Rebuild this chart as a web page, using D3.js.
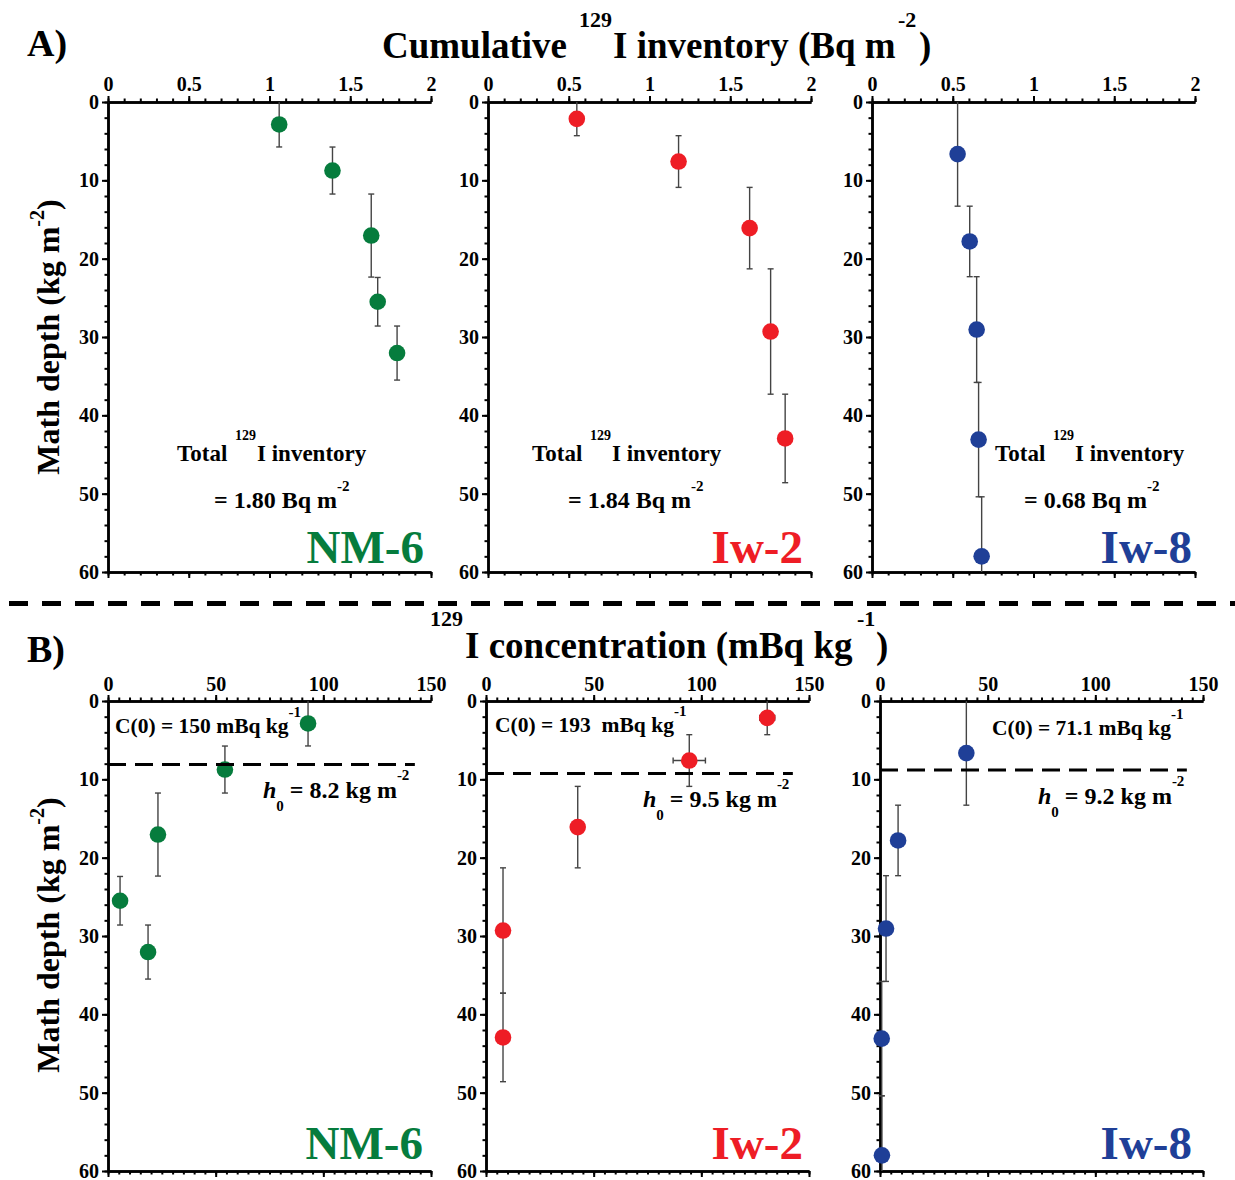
<!DOCTYPE html>
<html>
<head>
<meta charset="utf-8">
<script src="https://cdn.jsdelivr.net/npm/d3@7"></script>
<style>
body { margin: 0; background: #fff; }
text { font-family: "Liberation Serif", "Times New Roman", serif; font-weight: bold; white-space: pre; }
</style>
</head>
<body>
<svg id="chart" width="1235" height="1180"></svg>
<script>
// ---- data ----
var sites = ["NM-6", "Iw-2", "Iw-8"];
var colors = ["#067c3d", "#ee1d25", "#1f3f97"];

// mass depth of each sample (kg m-2) and half the sampled interval
var depthNM6 = [2.87, 8.75, 17.05, 25.5, 32.05];
var depthErrNM6 = [2.87, 3.0, 5.3, 3.1, 3.45];
var depthIw2 = [2.15, 7.6, 16.1, 29.3, 42.95];
var depthErrIw2 = [2.15, 3.3, 5.2, 8.0, 5.65];
var depthIw8 = [6.65, 17.8, 29.05, 43.1, 58.0];
var depthErrIw8 = [6.65, 4.5, 6.75, 7.3, 7.6];

// cumulative 129I inventory (Bq m-2)
var inventoryNM6 = [1.06, 1.39, 1.63, 1.67, 1.79];
var inventoryIw2 = [0.55, 1.18, 1.62, 1.75, 1.84];
var inventoryIw8 = [0.53, 0.605, 0.648, 0.66, 0.679];

// 129I concentration (mBq kg-1)
var concNM6 = [92.9, 54.3, 23.2, 5.6, 18.6];
var concIw2 = [130.6, 94.4, 42.6, 7.9, 7.9];
var concErrIw2 = [3.5, 7.5, 0, 0, 0];
var concIw8 = [40.1, 8.4, 2.8, 0.8, 0.9];

var totals = ["1.80", "1.84", "0.68"];
var c0Labels = ["150", "193 ", "71.1"];
var h0Labels = ["8.2", "9.5", "9.2"];
var h0Lines = [8.1, 9.25, 8.8];   // depth where the dashed line sits

var inventoryTicks = [0, 0.5, 1, 1.5, 2];
var concTicks = [0, 50, 100, 150];
var depthTicks = [0, 10, 20, 30, 40, 50, 60];

var depth = [depthNM6, depthIw2, depthIw8];
var depthErr = [depthErrNM6, depthErrIw2, depthErrIw8];
var inventory = [inventoryNM6, inventoryIw2, inventoryIw8];
var conc = [concNM6, concIw2, concIw8];
var concErr = [[0, 0, 0, 0, 0], concErrIw2, [0, 0, 0, 0, 0]];

// ---- layout ----
var topX0 = [108, 488, 872],
    botX0 = [108, 486, 880],
    panelW = 323,
    panelH = 470,
    topY0 = 102,
    botY0 = 701;

var siteRight = [[424, 803, 1192], [423, 803, 1192]],
    totalX = [177, 532, 995],
    totalEqX = [214, 568, 1024],
    c0X = [115, 495, 992],
    c0Y = [733, 732, 735],
    h0X = [263, 643, 1038];

var svg = d3.select("#chart");

// text with sub/superscripts, parts: {t, off, size, italic, dx}
function rich(sel, x, y, size, parts) {
    var t = sel.append("text").attr("x", x).attr("y", y).style("font-size", size + "px");
    var cur = 0;
    parts.forEach(function(p) {
        var off = p.off || 0;
        var ts = t.append("tspan")
            .attr("dy", off - cur)
            .style("font-size", (p.size || size) + "px")
            .text(p.t);
        if (p.dx) ts.attr("dx", p.dx);
        if (p.italic) ts.style("font-style", "italic");
        cur = off;
    });
    return t;
}

function styleAxis(g) {
    g.select(".domain").attr("stroke", "#000").attr("stroke-width", 2.5);
    g.selectAll(".tick line").attr("stroke", "#000").attr("stroke-width", 2);
    g.selectAll(".tick text")
        .attr("fill", "#000")
        .style("font-size", "20px")
        .style("font-family", "'Liberation Serif', 'Times New Roman', serif")
        .style("font-weight", "bold");
}

function minor(domain, step) {
    var out = [];
    for (var v = domain[0]; v <= domain[1] + 1e-9; v += step) out.push(+v.toFixed(4));
    return out;
}

function panel(i, row) {
    var x0 = row === 0 ? topX0[i] : botX0[i];
    var y0 = row === 0 ? topY0 : botY0;
    var xDomain = row === 0 ? [0, 2] : [0, 150];
    var xMajor = row === 0 ? inventoryTicks : concTicks;
    var xMinor = minor(xDomain, row === 0 ? 0.1 : 5);
    var xs = row === 0 ? inventory[i] : conc[i];
    var xe = row === 0 ? [0, 0, 0, 0, 0] : concErr[i];

    var g = svg.append("g").attr("transform", "translate(" + x0 + "," + y0 + ")");
    var x = d3.scaleLinear().domain(xDomain).range([0, panelW]);
    var y = d3.scaleLinear().domain([0, 60]).range([0, panelH]);

    // minor ticks first, then the labelled majors
    g.append("g").call(d3.axisTop(x).tickValues(xMinor).tickSize(3.5).tickSizeOuter(0).tickFormat(""))
        .call(styleAxis);
    g.append("g").call(d3.axisTop(x).tickValues(xMajor).tickSize(6).tickSizeOuter(0).tickPadding(row === 0 ? 5 : 4)
        .tickFormat(function(d) { return d; }))
        .call(styleAxis);
    g.append("g").attr("transform", "translate(0," + panelH + ")")
        .call(d3.axisBottom(x).tickValues(xMinor).tickSize(3.5).tickSizeOuter(0).tickFormat(""))
        .call(styleAxis);
    g.append("g").attr("transform", "translate(0," + panelH + ")")
        .call(d3.axisBottom(x).tickValues(xMajor).tickSize(6).tickSizeOuter(0).tickFormat(""))
        .call(styleAxis);
    g.append("g").call(d3.axisLeft(y).tickValues(minor([0, 60], 2)).tickSize(3.5).tickSizeOuter(0).tickFormat(""))
        .call(styleAxis);
    g.append("g").call(d3.axisLeft(y).tickValues(depthTicks).tickSize(6).tickSizeOuter(0).tickPadding(3)
        .tickFormat(function(d) { return d; }))
        .call(styleAxis);

    var clipId = "clip" + row + i;
    g.append("clipPath").attr("id", clipId)
        .append("rect").attr("x", -30).attr("y", 0).attr("width", panelW + 60).attr("height", panelH);

    var pts = xs.map(function(v, k) {
        return { x: v, y: depth[i][k], ey: depthErr[i][k], ex: xe[k] };
    });

    var eb = g.append("g").attr("clip-path", "url(#" + clipId + ")")
        .attr("stroke", "#444").attr("stroke-width", 1.4).attr("fill", "none");
    pts.forEach(function(d) {
        eb.append("line").attr("x1", x(d.x)).attr("x2", x(d.x))
            .attr("y1", y(d.y - d.ey)).attr("y2", y(d.y + d.ey));
        [d.y - d.ey, d.y + d.ey].forEach(function(v) {
            if (v > 0.05) eb.append("line").attr("x1", x(d.x) - 3).attr("x2", x(d.x) + 3)
                .attr("y1", y(v)).attr("y2", y(v));
        });
        if (d.ex > 0) {
            eb.append("line").attr("x1", x(d.x - d.ex)).attr("x2", x(d.x + d.ex))
                .attr("y1", y(d.y)).attr("y2", y(d.y));
            [d.x - d.ex, d.x + d.ex].forEach(function(v) {
                eb.append("line").attr("x1", x(v)).attr("x2", x(v))
                    .attr("y1", y(d.y) - 3).attr("y2", y(d.y) + 3);
            });
        }
    });

    g.append("g").selectAll("circle").data(pts).enter().append("circle")
        .attr("cx", function(d) { return x(d.x); })
        .attr("cy", function(d) { return y(d.y); })
        .attr("r", 8.3)
        .attr("fill", colors[i]);

    // site label
    svg.append("text").attr("x", siteRight[row][i]).attr("y", y0 + panelH - (row === 0 ? 9 : 12))
        .attr("text-anchor", "end").attr("fill", colors[i])
        .style("font-size", "47px").text(sites[i]);

    if (row === 0) {
        rich(svg, totalX[i], 461, 23, [
            { t: "Total " },
            { t: "129", size: 14, off: -21, dx: 2 },
            { t: "I inventory", off: 0, dx: 1 }
        ]);
        rich(svg, totalEqX[i], 508, 24, [
            { t: "= " + totals[i] + " Bq m" },
            { t: "-2", size: 15, off: -17 }
        ]);
    } else {
        g.append("line")
            .attr("x1", 0).attr("x2", x(142.5))
            .attr("y1", y(h0Lines[i])).attr("y2", y(h0Lines[i]))
            .attr("stroke", "#000").attr("stroke-width", 3)
            .attr("stroke-dasharray", "18,9");
        rich(svg, c0X[i], c0Y[i], 21.5, [
            { t: "C(0) = " + c0Labels[i] + " mBq kg" },
            { t: "-1", size: 15, off: -16 }
        ]);
        rich(svg, h0X[i], y0 + y(h0Lines[i]) + 34, 24, [
            { t: "h", italic: true },
            { t: "0", size: 15, off: 13 },
            { t: " = " + h0Labels[i] + " kg m", off: 0 },
            { t: "-2", size: 15, off: -18 }
        ]);
    }
}

[0, 1, 2].forEach(function(i) { panel(i, 0); panel(i, 1); });

// titles and panel letters
svg.append("text").attr("x", 27).attr("y", 56).style("font-size", "38px").text("A)");
svg.append("text").attr("x", 27).attr("y", 662).style("font-size", "38px").text("B)");

svg.append("text").attr("x", 382).attr("y", 58).style("font-size", "37px").text("Cumulative");
svg.append("text").attr("x", 579).attr("y", 27).style("font-size", "22px").text("129");
svg.append("text").attr("x", 613).attr("y", 58).style("font-size", "37px").text("I inventory (Bq m");
svg.append("text").attr("x", 898).attr("y", 27).style("font-size", "22px").text("-2");
svg.append("text").attr("x", 919).attr("y", 58).style("font-size", "37px").text(")");

svg.append("text").attr("x", 430).attr("y", 626).style("font-size", "22px").text("129");
svg.append("text").attr("x", 465).attr("y", 658).style("font-size", "37px").text("I concentration (mBq kg");
svg.append("text").attr("x", 857).attr("y", 626).style("font-size", "22px").text("-1");
svg.append("text").attr("x", 876).attr("y", 658).style("font-size", "37px").text(")");

// y axis labels
[337, 935].forEach(function(cy) {
    var t = rich(svg, 0, 0, 32, [
        { t: "Math depth (kg m" },
        { t: "-2", size: 20, off: -15 },
        { t: ")", off: 0 }
    ]);
    t.attr("text-anchor", "middle").attr("transform", "translate(59," + cy + ") rotate(-90)");
});

// separator between A and B
svg.append("line").attr("x1", 0).attr("x2", 1235).attr("y1", 603.5).attr("y2", 603.5)
    .attr("stroke", "#000").attr("stroke-width", 5)
    .attr("stroke-dasharray", "19,14").attr("stroke-dashoffset", 24);
</script>
</body>
</html>
